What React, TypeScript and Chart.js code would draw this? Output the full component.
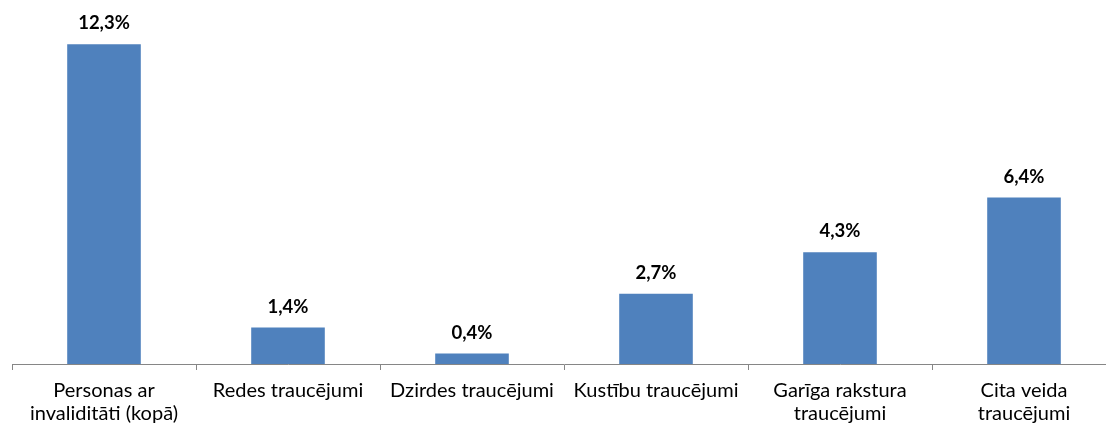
import React, { useEffect, useRef } from "react";
import { Chart, registerables } from "chart.js";

Chart.register(...registerables);

const categories: string[][] = [
  ["Personas ar", "invaliditāti (kopā)"],
  ["Redes traucējumi"],
  ["Dzirdes traucējumi"],
  ["Kustību traucējumi"],
  ["Garīga rakstura", "traucējumi"],
  ["Cita veida", "traucējumi"],
];
const values: number[] = [12.3, 1.4, 0.4, 2.7, 4.3, 6.4];
const valueLabels: string[] = ["12,3%", "1,4%", "0,4%", "2,7%", "4,3%", "6,4%"];

const FONT = "Lato, 'Open Sans', sans-serif";

export default function App() {
  const ref = useRef<HTMLCanvasElement | null>(null);
  useEffect(() => {
    if (!ref.current) return;
    const labelPlugin = {
      id: "valueLabels",
      afterDatasetsDraw(chart: any) {
        const ctx = chart.ctx;
        const meta = chart.getDatasetMeta(0);
        ctx.save();
        ctx.font = `bold 18.5px ${FONT}`;
        ctx.fillStyle = "#000";
        ctx.textAlign = "center";
        ctx.textBaseline = "middle";
        meta.data.forEach((el: any, i: number) => {
          ctx.fillText(valueLabels[i], el.x, el.y - 21);
        });
        ctx.restore();
      },
    };
    const chart = new Chart(ref.current, {
      type: "bar",
      data: {
        labels: categories,
        datasets: [
          {
            data: values,
            backgroundColor: "#4F81BD",
            barPercentage: 0.4,
            categoryPercentage: 1,
          },
        ],
      },
      options: {
        animation: false,
        responsive: false,
        layout: { padding: { left: 12, right: 4, top: 0, bottom: 0 } },
        plugins: { legend: { display: false }, tooltip: { enabled: false } },
        scales: {
          x: {
            grid: {
              drawOnChartArea: false,
              drawTicks: true,
              tickLength: 6,
              color: "#868686",
              offset: true,
            },
            border: { display: true, color: "#868686", width: 1 },
            ticks: {
              color: "#000",
              font: { family: FONT, size: 20, lineHeight: 1.15 },
              padding: 9,
              maxRotation: 0,
              autoSkip: false,
            },
            afterFit(scale: any) {
              scale.height = 63;
            },
          },
          y: {
            display: false,
            min: 0,
            max: 14,
          },
        },
      },
      plugins: [labelPlugin],
    });
    return () => chart.destroy();
  }, []);
  return (
    <div
      style={{
        position: "fixed",
        left: 0,
        top: 0,
        width: 1106,
        height: 427,
        overflow: "hidden",
        background: "#fff",
      }}
    >
      <canvas ref={ref} width={1120} height={427} style={{ display: "block" }} />
    </div>
  );
}
